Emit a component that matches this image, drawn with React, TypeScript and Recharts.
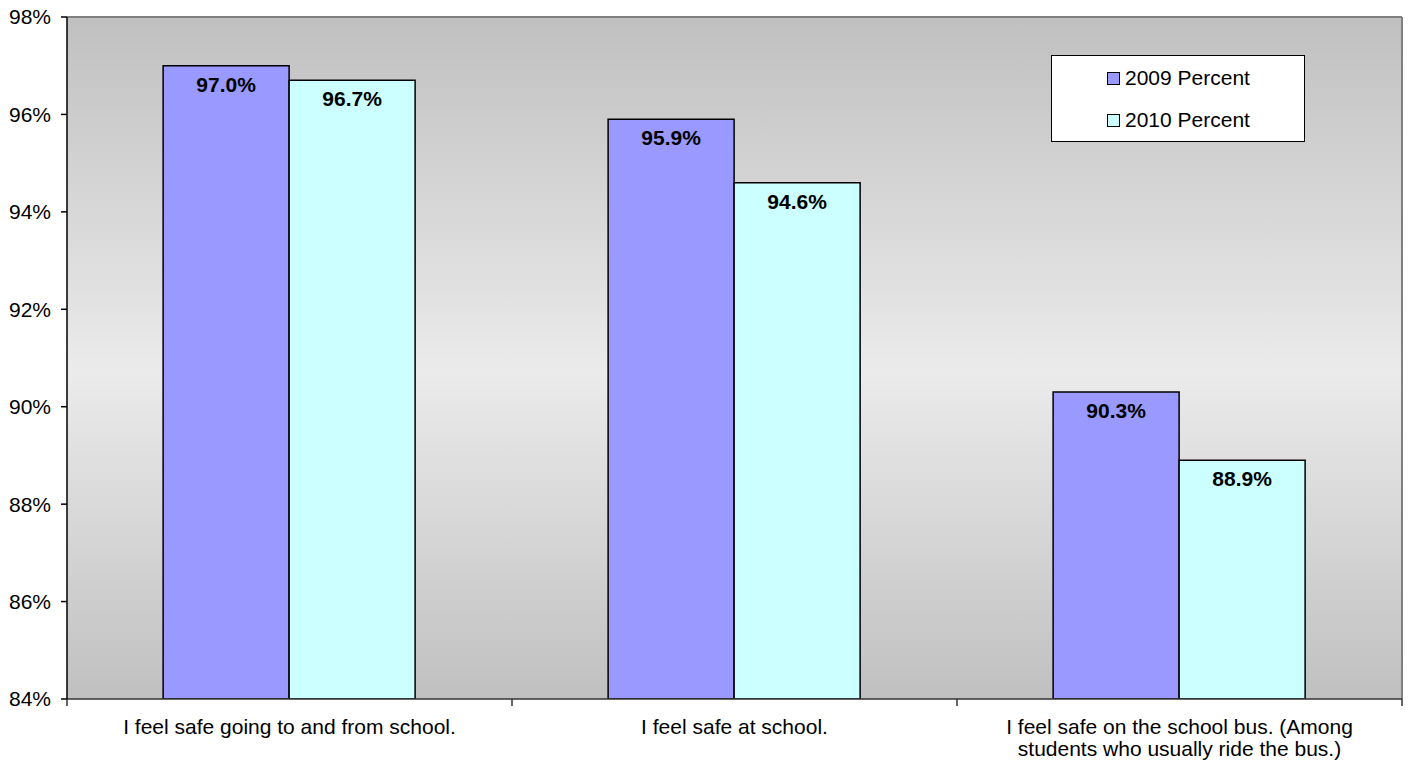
import React from "react";
import {
  Bar,
  BarChart,
  CartesianGrid,
  LabelList,
  Legend,
  XAxis,
  YAxis,
} from "recharts";

const categories = [
  "I feel safe going to and from school.",
  "I feel safe at school.",
  "I feel safe on the school bus. (Among students who usually ride the bus.)",
];
const percent2009 = [97.0, 95.9, 90.3];
const percent2010 = [96.7, 94.6, 88.9];
const seriesNames = ["2009 Percent", "2010 Percent"];
const yTicks = [84, 86, 88, 90, 92, 94, 96, 98];

const FONT = '"Liberation Sans", Arial, sans-serif';
const COLORS = ["#9999ff", "#ccffff"];

const data = categories.map((name, i) => ({
  name,
  p2009: percent2009[i],
  p2010: percent2010[i],
}));

// simple word wrap by character count
const wrap = (s: string, max: number) => {
  const lines: string[] = [];
  let cur = "";
  s.split(" ").forEach((w) => {
    const next = cur ? cur + " " + w : w;
    if (next.length > max && cur) {
      lines.push(cur);
      cur = w;
    } else {
      cur = next;
    }
  });
  if (cur) lines.push(cur);
  return lines;
};

const CategoryTick = (props: any) => {
  const { x, y, payload, index } = props;
  const half = payload && payload.offset ? payload.offset : 0;
  const lines = wrap(String(payload.value), 38);
  return (
    <g>
      {index === 0 && (
        <line x1={x - half} x2={x - half} y1={y} y2={y + 7} stroke="#333" strokeWidth={1.5} />
      )}
      <line x1={x + half} x2={x + half} y1={y} y2={y + 7} stroke="#333" strokeWidth={1.5} />
      <text
        x={x}
        y={y + 35}
        textAnchor="middle"
        style={{ fontFamily: FONT, fontSize: 21, fill: "#000" }}
      >
        {lines.map((l, i) => (
          <tspan key={i} x={x} dy={i === 0 ? 0 : 22}>
            {l}
          </tspan>
        ))}
      </text>
    </g>
  );
};

const LegendBox = (props: any) => {
  const items = props.payload || [];
  return (
    <div
      style={{
        width: 252,
        height: 85,
        background: "#fff",
        border: "1px solid #000",
        boxSizing: "content-box",
        position: "relative",
        fontFamily: FONT,
        fontSize: 21,
      }}
    >
      {items.map((it: any, i: number) => (
        <div
          key={i}
          style={{
            position: "absolute",
            left: 55,
            top: 9 + i * 42,
            height: 26,
            display: "flex",
            alignItems: "center",
          }}
        >
          <span
            style={{
              display: "inline-block",
              width: 11,
              height: 11,
              background: it.color,
              border: "1.5px solid #000",
              marginRight: 5,
            }}
          />
          <span style={{ color: "#000" }}>{it.value}</span>
        </div>
      ))}
    </div>
  );
};

export default function App() {
  return (
    <div style={{ position: "absolute", left: 0, top: 0, background: "#fff" }}>
      <BarChart
        width={1409}
        height={765}
        data={data}
        margin={{ top: 17, right: 7, bottom: 6, left: 7 }}
        barCategoryGap="21.6%"
        barGap={0}
      >
        <defs>
          <linearGradient id="plotBg" x1="0" y1="0" x2="0" y2="1">
            <stop offset="0%" stopColor="#c0c0c0" />
            <stop offset="52%" stopColor="#ebebeb" />
            <stop offset="100%" stopColor="#c0c0c0" />
          </linearGradient>
        </defs>
        <CartesianGrid
          fill="url(#plotBg)"
          stroke="#808080"
          strokeWidth={2}
          horizontalCoordinatesGenerator={({ offset }: any) => [offset.top]}
          verticalCoordinatesGenerator={({ offset }: any) => [offset.left + offset.width]}
        />
        <XAxis
          dataKey="name"
          height={60}
          tickSize={0}
          tickMargin={0}
          tickLine={false}
          axisLine={{ stroke: "#333", strokeWidth: 1.5 }}
          tick={<CategoryTick />}
          interval={0}
        />
        <YAxis
          width={60}
          domain={[84, 98]}
          ticks={yTicks}
          allowDataOverflow
          tickSize={6}
          tickMargin={10}
          tickLine={{ stroke: "#000", strokeWidth: 1.5 }}
          axisLine={{ stroke: "#000", strokeWidth: 1.5 }}
          tickFormatter={(v) => `${v}%`}
          tick={{ fill: "#000", fontSize: 21, fontFamily: FONT }}
        />
        <Legend
          layout="vertical"
          align="center"
          verticalAlign="middle"
          wrapperStyle={{ position: "absolute", left: 1051, top: 55, width: 254, height: 87 }}
          content={<LegendBox />}
        />
        <Bar
          dataKey="p2009"
          name={seriesNames[0]}
          fill={COLORS[0]}
          stroke="#000"
          strokeWidth={1.5}
          isAnimationActive={false}
        >
          <LabelList
            dataKey="p2009"
            position="insideTop"
            offset={11}
            formatter={(v: any) => `${Number(v).toFixed(1)}%`}
            style={{ fontFamily: FONT, fontSize: 21, fontWeight: "bold", fill: "#000" }}
          />
        </Bar>
        <Bar
          dataKey="p2010"
          name={seriesNames[1]}
          fill={COLORS[1]}
          stroke="#000"
          strokeWidth={1.5}
          isAnimationActive={false}
        >
          <LabelList
            dataKey="p2010"
            position="insideTop"
            offset={11}
            formatter={(v: any) => `${Number(v).toFixed(1)}%`}
            style={{ fontFamily: FONT, fontSize: 21, fontWeight: "bold", fill: "#000" }}
          />
        </Bar>
      </BarChart>
    </div>
  );
}
